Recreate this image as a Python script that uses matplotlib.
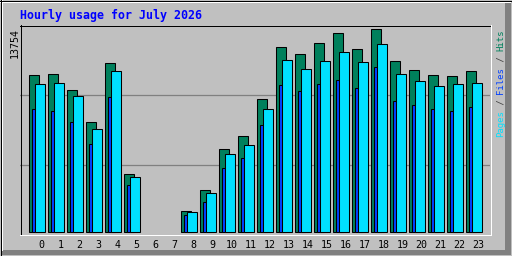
import numpy as np
import matplotlib.pyplot as plt
from matplotlib.lines import Line2D
from matplotlib.patches import Polygon

hours = list(range(24))
hits = [10640, 10700, 9620, 7450, 11470, 3930, 0, 0, 1420, 2850, 5620, 6500,
        9010, 12530, 12060, 12800, 13480, 12400, 13754, 11590, 10980, 10640, 10570, 10910]
files = [8330, 8200, 7450, 5960, 9150, 3180, 0, 0, 1150, 2030, 4340, 5010,
         7250, 9960, 9550, 10030, 10300, 9760, 11180, 8880, 8600, 8330, 8200, 8470]
pages = [10030, 10100, 9210, 6980, 10910, 3730, 0, 0, 1360, 2640, 5290, 5890,
         8330, 11650, 11040, 11590, 12200, 11520, 12740, 10700, 10230, 9890, 10030, 10100]
ymax = 13754
title = "Hourly usage for July 2026"

W, H = 512, 256
bg = '#c0c0c0'
c_hits, c_files, c_pages = '#00805c', '#0040ff', '#00e0ff'

fig = plt.figure(figsize=(W / 100, H / 100), dpi=100, facecolor=bg)


def fx(px):
    return px / W


def fy(py):
    return 1 - py / H


def fline(x0, y0, x1, y1, color, lw=1.0):
    fig.add_artist(Line2D([fx(x0), fx(x1)], [fy(y0), fy(y1)], color=color,
                          lw=lw * 0.72, transform=fig.transFigure, antialiased=False))


# outer bevel
fig.add_artist(Polygon([(fx(505), fy(1)), (fx(511), fy(1)), (fx(511), fy(255)),
                        (fx(1), fy(255)), (fx(1), fy(250)), (fx(505), fy(250))],
                       closed=True, facecolor='#808080', edgecolor='none',
                       transform=fig.transFigure))
fline(1, 1.5, 510, 1.5, 'white', 2)
fline(1.5, 1, 1.5, 250, 'white', 2)
fline(0, 0.5, 512, 0.5, 'black')
fline(0, 255.5, 512, 255.5, 'black')
fline(0.5, 0, 0.5, 256, 'black')
fline(511.5, 0, 511.5, 256, 'black')

# plot area
L, R, T, B = 20, 490, 25, 234
ax = fig.add_axes([fx(L), fy(B), (R - L) / W, (B - T) / H])
ax.set_facecolor(bg)
for s in ax.spines.values():
    s.set_visible(False)
ax.set_xticks([])
ax.set_yticks([])

base = 232.3
k = ymax / (base - 29.3)
ax.set_ylim(-(B - base) * k, (base - T) * k)
ax.set_xlim((L - 41.3) / 19, (R - 41.3) / 19)

for g in [(base - 165.3) * k, (base - 95.3) * k]:
    ax.axhline(g, color='#808080', lw=0.9, zorder=0)

x = np.array(hours, dtype=float)
bw = 10 / 19
for vals, col, off in [(hits, c_hits, -0.632), (files, c_files, -0.489), (pages, c_pages, -0.332)]:
    v = np.array(vals, dtype=float)
    m = v > 0
    ax.bar(x[m] + off, v[m], width=bw, align='edge', color=col,
           edgecolor='black', linewidth=0.75)

# frame
fline(L, T + 0.5, R, T + 0.5, 'black')
fline(L + 0.5, T, L + 0.5, B, 'black')
fline(L, B + 0.5, R + 1, B + 0.5, 'white')
fline(R + 0.5, T, R + 0.5, B + 1, 'white')

mono = 'DejaVu Sans Mono'
fig.text(fx(20), fy(15), title, color='#0000ff', fontsize=8.4, fontweight='bold',
         family=mono, ha='left', va='center')
fig.text(fx(15), fy(28), str(ymax), color='black', fontsize=7.2, family=mono,
         rotation=90, ha='center', va='top')
for h in hours:
    fig.text(fx(41.3 + 19 * h), fy(245), str(h), color='black', fontsize=7.2,
             family=mono, ha='center', va='center')

# legend text on right, reading upward
parts = [("Hits", c_hits), (" / ", 'black'), ("Files", c_files), (" / ", 'black'), ("Pages", c_pages)]
cw = 5.4
ytop = 29.3
for txt, col in parts:
    fig.text(fx(500.5), fy(ytop), txt, color=col if txt.strip() != '/' else '#404040',
             fontsize=6.5, family=mono, rotation=90, ha='center', va='top')
    ytop += cw * len(txt)

fig.savefig('out.png', dpi=100, facecolor=bg)
